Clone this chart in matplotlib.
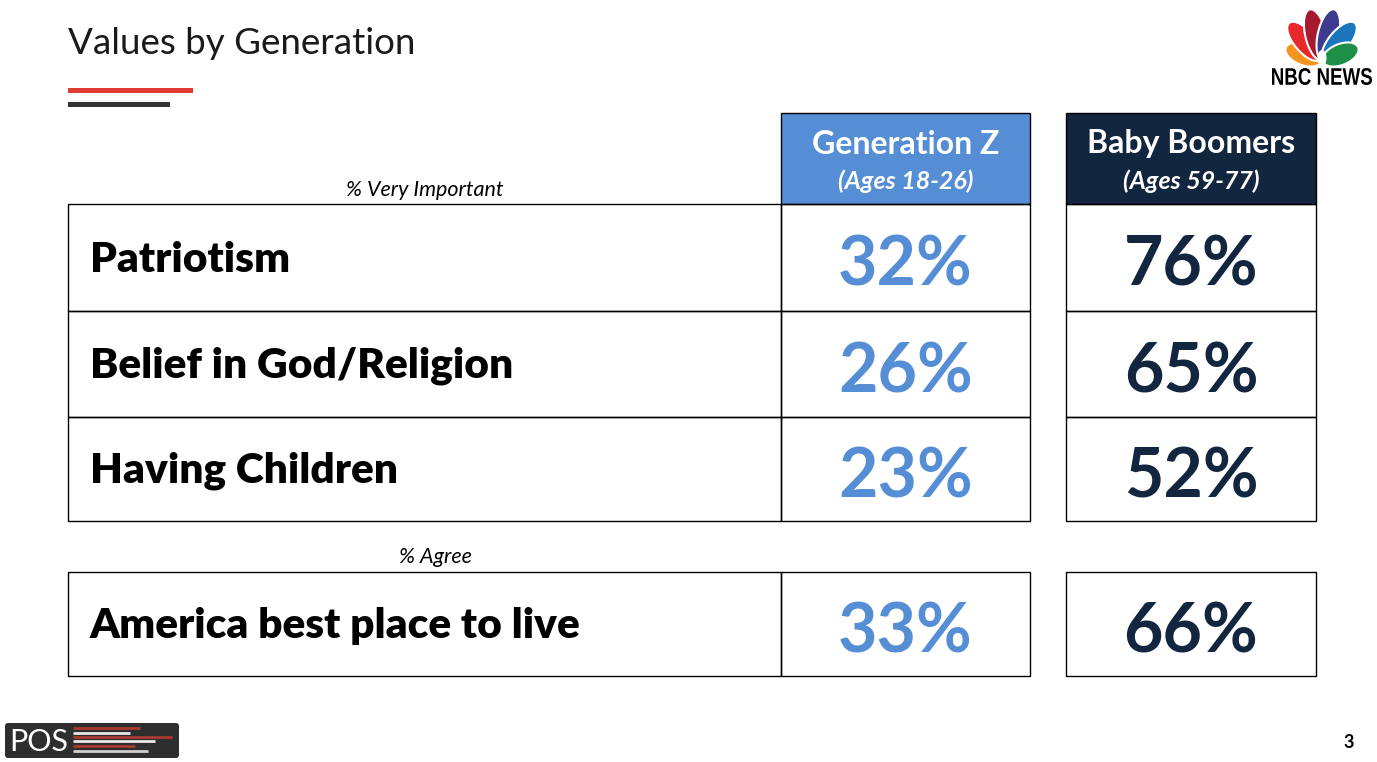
import numpy as np
import matplotlib
matplotlib.use("Agg")
import matplotlib.pyplot as plt
from matplotlib.patches import Rectangle, Ellipse, FancyBboxPatch, PathPatch
from matplotlib.textpath import TextPath
from matplotlib.font_manager import FontProperties
from matplotlib.transforms import Affine2D

# data
categories = ["Patriotism", "Belief in God/Religion", "Having Children", "America best place to live"]
genz = [32, 26, 23, 33]
boomers = [76, 65, 52, 66]
groups = ["Generation Z", "Baby Boomers"]
ages = ["(Ages 18-26)", "(Ages 59-77)"]
sections = ["% Very Important", "% Agree"]

light_blue = "#558ED5"
navy = "#132640"
FONT = "Lato"

W, H = 1377, 762
fig = plt.figure(figsize=(W / 100, H / 100), dpi=100)
ax = fig.add_axes([0, 0, 1, 1])
ax.set_xlim(0, W)
ax.set_ylim(H, 0)
ax.axis("off")

# title + underline bars
ax.text(68, 44, "Values by Generation", fontsize=26.5, family=FONT, color="#1a1a1a",
        va="center", ha="left")
ax.add_patch(Rectangle((68, 88), 125, 5, color="#E03A35", lw=0))
ax.add_patch(Rectangle((68, 102), 102, 5, color="#333333", lw=0))

# table layout
lab_x0, lab_x1 = 68, 781
col_x = [(781, 1030), (1066, 1316)]
head_top, head_bot = 113, 204
row_top = [204, 311, 417, 572]
row_bot = [311, 417, 521, 676]
col_colors = [light_blue, navy]
values = [genz, boomers]

for j, (x0, x1) in enumerate(col_x):
    ax.add_patch(Rectangle((x0, head_top), x1 - x0, head_bot - head_top,
                           facecolor=col_colors[j], edgecolor="black", lw=1))
    xc = (x0 + x1) / 2
    ax.text(xc, 144, groups[j], fontsize=23, weight="bold", family=FONT, color="white",
            ha="center", va="center")
    ax.text(xc, 181, ages[j], fontsize=18, weight="bold", style="italic", family=FONT,
            color="white", ha="center", va="center")

for i, cat in enumerate(categories):
    t, b = row_top[i], row_bot[i]
    ax.add_patch(Rectangle((lab_x0, t), lab_x1 - lab_x0, b - t, fill=False, edgecolor="black", lw=1))
    ax.text(90, (t + b) / 2 + 2, cat, fontsize=30.5, weight="heavy", family=FONT, color="black",
            ha="left", va="center")
    for j, (x0, x1) in enumerate(col_x):
        ax.add_patch(Rectangle((x0, t), x1 - x0, b - t, fill=False, edgecolor="black", lw=1))
        ax.text((x0 + x1) / 2, (t + b) / 2 + 9, f"{values[j][i]}%", fontsize=49, weight="bold",
                family=FONT, color=col_colors[j], ha="center", va="center")

ax.text(425, 190, sections[0], fontsize=15.5, style="italic", family=FONT, ha="center", va="center")
ax.text(435, 557, sections[1], fontsize=15.5, style="italic", family=FONT, ha="center", va="center")

# NBC News peacock: feathers fanning out from a base point
base_x, base_y = 1322, 62
feathers = [("#F7941D", -68, 20, 38), ("#E8282B", -40, 27, 48), ("#A6192E", -13, 28, 52),
            ("#3D3A8F", 13, 28, 52), ("#1B75BC", 40, 27, 48), ("#1D8F46", 68, 20, 38)]
for c, th, dist, length in feathers:
    r = np.radians(th)
    cx, cy = base_x + dist * np.sin(r), base_y - dist * np.cos(r)
    ax.add_patch(Ellipse((cx, cy), 21, length, angle=th, facecolor=c, edgecolor="white", lw=1.5))
ax.add_patch(Ellipse((base_x, base_y - 4), 9, 16, color="white", lw=0))

fp = FontProperties(family="Liberation Sans", weight="bold")
tp = TextPath((0, 0), "NBC NEWS", size=10, prop=fp)
bb = tp.get_extents()
sx = 100 / bb.width
sy = 17 / bb.height
trans = Affine2D().translate(-bb.x0, -bb.y0).scale(sx, -sy).translate(1272, 85)
ax.add_patch(PathPatch(trans.transform_path(tp), color="black", lw=0))

# POS logo
ax.add_patch(FancyBboxPatch((5, 723), 174, 35, boxstyle="round,pad=0,rounding_size=3",
                            facecolor="#2E2E2E", edgecolor="none"))
ax.text(9, 742, "POS", fontsize=22, family=FONT, color="white", ha="left", va="center")
stripes = [(728, 140, "#A83A30"), (733, 130, "#E8E8E8"), (737, 172, "#A83A30"),
           (741, 155, "#E8E8E8"), (746, 135, "#A83A30"), (751, 148, "#D0D0D0")]
for sy_, sx1, sc in stripes:
    ax.plot([73, sx1], [sy_, sy_], color=sc, lw=2, solid_capstyle="butt")

ax.text(1349, 743, "3", fontsize=13, weight="bold", family=FONT, ha="center", va="center")

fig.savefig("out.png", dpi=100)
